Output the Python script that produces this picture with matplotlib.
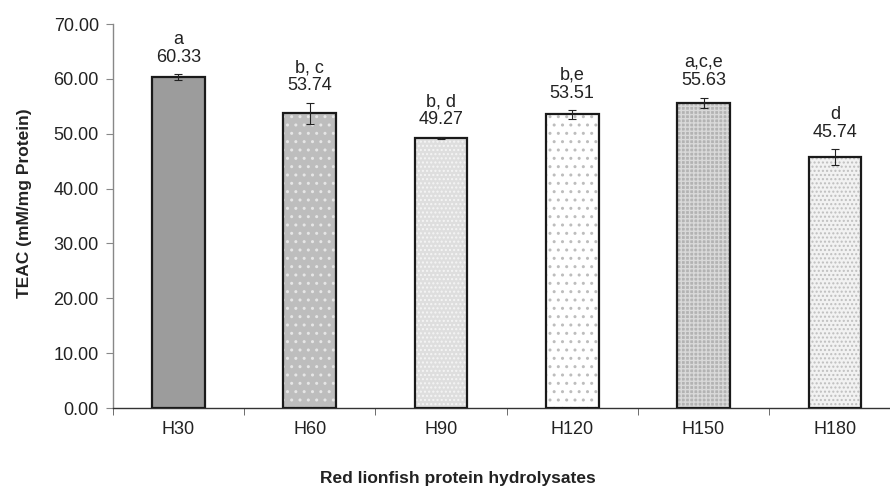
import matplotlib.pyplot as plt
import numpy as np

samples = ['H30', 'H60', 'H90', 'H120', 'H150', 'H180']
teac = [60.33, 53.74, 49.27, 53.51, 55.63, 45.74]
teac_err = [0.5, 1.9, 0.2, 0.75, 0.95, 1.4]
letters = ['a', 'b, c', 'b, d', 'b,e', 'a,c,e', 'd']

plt.rcParams['font.family'] = ['Liberation Sans', 'DejaVu Sans']
plt.rcParams['hatch.linewidth'] = 1.0

fills = ['#9c9c9c', '#bdbdbd', '#dedede', '#ffffff', '#b3b3b3', '#f2f2f2']
hatch_colors = ['#9c9c9c', '#e6e6e6', '#f5f5f5', '#bdbdbd', '#d9d9d9', '#bfbfbf']
hatches = [None, '..', '....', '..', '++++', '....']

fig = plt.figure(figsize=(8.9, 4.88), dpi=100)
ax = fig.add_axes([0.1266, 0.1639, 0.8734, 0.7869])

x = np.arange(len(samples))
for i in range(len(samples)):
    ax.bar(x[i], teac[i], width=0.4, color=fills[i], edgecolor=hatch_colors[i],
           hatch=hatches[i], linewidth=0, zorder=2)
ax.bar(x, teac, width=0.4, fill=False, edgecolor='#1a1a1a', linewidth=1.6, zorder=3)
ax.errorbar(x, teac, yerr=teac_err, fmt='none', ecolor='#222222', elinewidth=0.8,
            capsize=3, capthick=0.8, zorder=4)

for i in range(len(samples)):
    ax.annotate(letters[i] + '\n' + '%.2f' % teac[i], (x[i], teac[i] + teac_err[i]),
                xytext=(0, 6), textcoords='offset points', ha='center', va='bottom',
                fontsize=13, color='#222222', linespacing=1.1)

ax.set_xlim(-0.5, 5.42)
ax.set_ylim(0, 70)
ax.set_yticks(np.arange(0, 71, 10))
ax.set_yticklabels(['%.2f' % v for v in np.arange(0, 71, 10)])
ax.set_xticks(x)
ax.set_xticklabels(samples)
ax.set_xticks(np.arange(-0.5, 5.5, 1), minor=True)
ax.tick_params(axis='x', which='major', length=0, pad=9, labelsize=13, labelcolor='#222222')
ax.tick_params(axis='x', which='minor', length=5, direction='out', color='#555555')
ax.tick_params(axis='y', length=5, direction='out', color='#888888', pad=5,
               labelsize=13, labelcolor='#222222')

for s in ['top', 'right']:
    ax.spines[s].set_visible(False)
ax.spines['left'].set_color('#888888')
ax.spines['left'].set_linewidth(1.0)
ax.spines['bottom'].set_color('#333333')
ax.spines['bottom'].set_linewidth(1.0)

fig.text(0.028, 0.584, 'TEAC (mM/mg Protein)', rotation=90, ha='center', va='center',
         fontsize=12.5, fontweight='bold', color='#222222')
fig.text(0.515, 0.02, 'Red lionfish protein hydrolysates', ha='center', va='center',
         fontsize=12.5, fontweight='bold', color='#222222')

fig.savefig('out.png', dpi=100)
